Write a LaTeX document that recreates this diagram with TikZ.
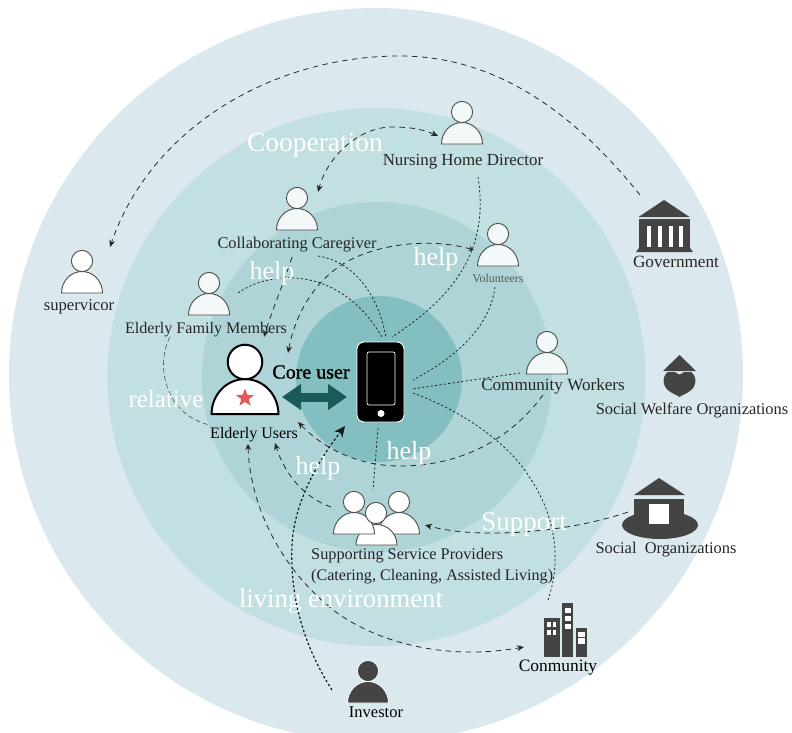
\documentclass[tikz,border=0pt]{standalone}
\usepackage{fontspec}
\setmainfont{Liberation Serif}
\newfontfamily\corefont[FakeBold=1.2]{Liberation Serif}
\usetikzlibrary{arrows.meta,shapes.geometric}
\definecolor{ringa}{HTML}{DBE9EE}
\definecolor{ringb}{HTML}{C2DFE2}
\definecolor{ringc}{HTML}{AED4D8}
\definecolor{ringd}{HTML}{83BFC0}
\definecolor{darkicon}{HTML}{444444}
\definecolor{tealarrow}{HTML}{1A5A58}
\definecolor{starred}{HTML}{E05A5A}
\definecolor{softwhite}{HTML}{F3F8F9}
\newcommand{\fz}[1]{\fontsize{#1}{#1}\selectfont}
\tikzset{
  x=1pt,y=-1pt,
  lab/.style={font=\fz{16.4},text=black!85,inner sep=0pt,yshift=-1pt},
  whitelab/.style={font=\fz{27.5},text=white,inner sep=0pt,yshift=-2pt},
  helplab/.style={font=\fz{26},text=white,inner sep=0pt,yshift=-1.5pt},
  tip/.style={-{Stealth[length=7pt,width=6pt]}},
  dashlink/.style={line width=.8pt,dash pattern=on 5.5pt off 4.5pt,draw=black!85},
  dotlink/.style={line width=.8pt,dash pattern=on 2.2pt off 2.2pt,draw=black!85},
  person/.pic={
    \path[pic actions] (-20.5,32) .. controls (-20.5,20) and (-11.3,10.5) .. (0,10.5)
       .. controls (11.3,10.5) and (20.5,20) .. (20.5,32) -- cycle;
    \path[pic actions] (0,0) circle (10.6);
  },
  iconp/.style={draw=black!70,line width=.9pt,fill=softwhite},
  whitep/.style={draw=black!70,line width=.9pt,fill=white},
}
\begin{document}
\begin{tikzpicture}
\useasboundingbox (0,0) rectangle (792,733);
% rings
\fill[ringa] (376,375) circle (367);
\fill[ringb] (376.5,377) circle (269);
\fill[ringc] (377,377) circle (175);
\fill[ringd] (379,379) circle (83);

% free ends of connectors
\coordinate (govS) at (640,195);
\coordinate (govTop) at (400,56);
\coordinate (supE) at (110,247);
\coordinate (dirL) at (438,136);
\coordinate (dirTop) at (392,127);
\coordinate (cgT) at (318,192);
\coordinate (dirB) at (478,177);
\coordinate (phA) at (392,337);
\coordinate (phB) at (386,337);
\coordinate (phC) at (382,337);
\coordinate (cgR) at (318,256);
\coordinate (famR) at (238,293);
\coordinate (cgB) at (292,257);
\coordinate (famE) at (264,337);
\coordinate (volL) at (474,250);
\coordinate (volM) at (350,260);
\coordinate (userT) at (288,353);
\coordinate (volB) at (495,287);
\coordinate (phD) at (413,380);
\coordinate (cwL) at (520,373);
\coordinate (phE) at (412,389);
\coordinate (phF) at (413,393);
\coordinate (bldM) at (530,478);
\coordinate (bldT) at (548,600);
\coordinate (cwB) at (543,395);
\coordinate (cwM) at (400,466);
\coordinate (userR) at (298,422);
\coordinate (phG) at (378,428);
\coordinate (srvT) at (373,490);
\coordinate (srvL) at (331,507);
\coordinate (userB) at (275,443);
\coordinate (orgL) at (628,512);
\coordinate (srvR) at (425,525);
\coordinate (invL) at (332,690);
\coordinate (invM) at (292,545);
\coordinate (phH) at (345,426);
\coordinate (userC) at (248,444);
\coordinate (userM) at (340,615);
\coordinate (bldL) at (524,647);
\coordinate (famL) at (170,337);
\coordinate (userL) at (210,425);

% connectors
\draw[dashlink,tip] (govS) .. controls (560,95) and (480,56) .. (govTop) .. controls (270,56) and (150,130) .. (supE);
\draw[dashlink,{Stealth[length=7pt,width=6pt]}-{Stealth[length=7pt,width=6pt]}] (dirL) .. controls (420,128) and (405,127) .. (dirTop) .. controls (360,127) and (328,155) .. (cgT);
\draw[dotlink] (dirB) .. controls (488,240) and (465,290) .. (phA);
\draw[dotlink] (cgR) .. controls (355,262) and (378,295) .. (phB);
\draw[dotlink] (famR) .. controls (270,270) and (340,265) .. (phC);
\draw[dashlink,tip] (cgB) .. controls (285,280) and (272,310) .. (famE);
\draw[dashlink,{Stealth[length=5pt,width=5pt]}-{Stealth[length=7pt,width=6pt]}] (volL) .. controls (440,240) and (390,240) .. (volM) .. controls (315,278) and (295,315) .. (userT);
\draw[dotlink] (volB) .. controls (490,325) and (460,355) .. (phD);
\draw[dotlink] (cwL) -- (phE);
\draw[dotlink] (phF) .. controls (465,412) and (510,445) .. (bldM) .. controls (555,515) and (562,560) .. (bldT);
\draw[dashlink,tip] (cwB) .. controls (510,440) and (460,466) .. (cwM) .. controls (360,466) and (325,450) .. (userR);
\draw[dotlink] (phG) -- (srvT);
\draw[dashlink,tip] (srvL) .. controls (305,498) and (285,475) .. (userB);
\draw[dashlink,tip] (orgL) .. controls (570,532) and (480,540) .. (srvR);
\draw[line width=1.2pt,dash pattern=on 2.4pt off 2.2pt,draw=black!90,-{Stealth[length=11pt,width=10pt]}] (invL) .. controls (300,640) and (290,590) .. (invM) .. controls (294,505) and (315,465) .. (phH);
\draw[dashlink,{Stealth[length=6pt,width=6pt]}-{Stealth[length=7pt,width=6pt]}] (userC) .. controls (250,510) and (285,575) .. (userM) .. controls (385,645) and (450,660) .. (bldL);
\draw[line width=.6pt,dash pattern=on 5pt off 3pt,draw=black!70] (famL) .. controls (155,365) and (165,415) .. (userL);

% people
\pic[whitep] at (82,261) {person};
\pic[iconp] at (462,112) {person};
\pic[iconp] at (297,198) {person};
\pic[iconp] at (498,234) {person};
\pic[iconp] at (209,283) {person};
\pic[iconp] at (547,342) {person};
% investor
\pic[fill=darkicon,draw=white,line width=.8pt] at (368,671) {person};
% service providers
\pic[whitep] at (399,502) {person};
\draw[whitep] (356,545) .. controls (356,534) and (365,524.5) .. (376.5,524.5) .. controls (388,524.5) and (397,534) .. (397,545) -- cycle;
\pic[whitep] at (354,502) {person};
\draw[whitep] (376,513) circle (10.6);

% elderly user
\pic[draw=black,line width=2pt,fill=white,scale=1.63] at (245,362) {person};
\node[star,star points=5,star point ratio=2.4,fill=starred,inner sep=0pt,minimum size=19pt] (userstar) at (245,398) {};

% phone
\draw[draw=white,line width=.9pt,fill=black,rounded corners=7pt] (357,342) rectangle (404,422);
\draw[draw=white,line width=.7pt,rounded corners=2pt] (367,352) rectangle (395,405);
\fill[white] (381,413.5) circle (3.5);

% core arrow
\coordinate (coreL) at (282,397);
\coordinate (coreR) at (347,397);
\draw[tealarrow,line width=9pt,{Triangle[length=19pt,width=25pt]}-{Triangle[length=19pt,width=25pt]}] (coreL) -- (coreR);

% government
\fill[darkicon] (664,200) -- (689.5,217) -- (638.5,217) -- cycle;
\fill[darkicon] (639,219) rectangle (690,250);
\fill[darkicon] (636,252) -- (639,248) -- (690,248) -- (693,252) -- cycle;
\fill[white] (646.5,226) rectangle (651,247);
\fill[white] (657.5,226) rectangle (662.3,247);
\fill[white] (668.7,226) rectangle (673,247);
\fill[white] (679,226) rectangle (683.3,247);

% welfare
\fill[darkicon] (679.5,355) -- (696,371) -- (663,371) -- cycle;
\fill[darkicon] (668,372) .. controls (662,376) and (662,386) .. (669,391) .. controls (673,394) and (677,395) .. (679.5,397)
   .. controls (682,395) and (686,394) .. (690,391) .. controls (697,386) and (697,376) .. (691,372) -- cycle;
\fill[ringa] (675,372) -- (684,372) -- (679.5,374.5) -- cycle;

% social organisation
\fill[darkicon] (659,478) -- (685,495) -- (634,495) -- cycle;
\fill[darkicon] (634,499) rectangle (684,520);
\fill[darkicon] (660,525) ellipse (38 and 14);
\fill[white] (649,504) rectangle (669,524);

% community buildings
\fill[darkicon] (544,618) rectangle (560,657);
\fill[darkicon] (562,603) rectangle (573,657);
\fill[darkicon] (576,628) rectangle (587,657);
\foreach \px/\py/\pw/\ph in {547/622/3.5/4.5, 552.5/622/3.5/4.5, 547/630/3.5/4.5, 552.5/630/3.5/4.5, 565/608/6/5, 565/616/6/5, 565/624/6/5, 578/632/7/5, 578/638/7/6}
  \fill[white] (\px,\py) rectangle ++(\pw,\ph);

% labels
\node[whitelab] (tcoop) at (315,143) {Cooperation};
\node[lab,font=\fz{16.9}] (tdir) at (463,161) {Nursing Home Director};
\node[lab] (tcg) at (297,244) {Collaborating Caregiver};
\node[helplab] (thelpa) at (272,272) {help};
\node[helplab] (thelpb) at (436,258) {help};
\node[lab,font=\fz{12},text=black!65] (tvol) at (498,277) {Volunteers};
\node[lab,font=\fz{16.1}] (tfam) at (206,329) {Elderly Family Members};
\node[lab,font=\corefont\fz{20},text=black] (tcore) at (311,371) {Core user};
\node[lab,font=\fz{16},text=black] (tuser) at (254,434) {Elderly Users};
\node[whitelab,font=\fz{25}] (trel) at (166,397) {relative};
\node[lab,font=\fz{17.1}] (tcw) at (553,385) {Community Workers};
\node[helplab] (thelpc) at (409,452) {help};
\node[helplab] (thelpd) at (318,467) {help};
\node[lab,font=\fz{17.2}] (tgov) at (676,261) {Government};
\node[lab] (twel) at (692,409) {Social Welfare Organizations};
\node[lab] (torg) at (666,549) {Social~~Organizations};
\node[whitelab,font=\fz{27}] (tsup) at (524,522) {Support};
\node[lab,anchor=west,font=\fz{16.3}] (tsrva) at (311,555) {Supporting Service Providers};
\node[lab,anchor=west,font=\fz{16.1}] (tsrvb) at (311,576) {(Catering, Cleaning, Assisted Living)};
\node[whitelab,font=\fz{26.7}] (tliv) at (341,599) {living environment};
\node[lab,font=\fz{17.4},text=black] (tcom) at (558,667) {Conmunity};
\node[lab,font=\fz{16.5},text=black] (tinv) at (376,711) {Investor};
\node[lab,font=\fz{16.7}] (tsupv) at (79,306) {supervicor};
\end{tikzpicture}
\end{document}
